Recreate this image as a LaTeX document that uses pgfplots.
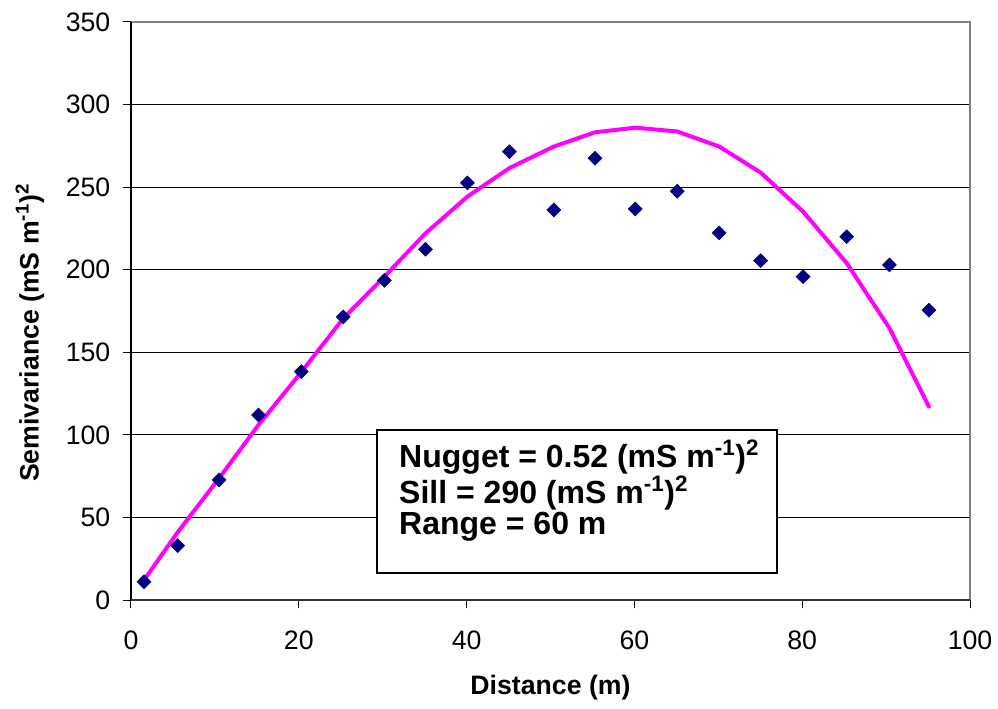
\documentclass[border=0pt]{standalone}
\usepackage{fontspec}
\setmainfont{Liberation Sans}
\usepackage{pgfplots}
\pgfplotsset{compat=1.18}

\definecolor{ptnavy}{RGB}{0,0,128}
\definecolor{fitmag}{RGB}{255,0,255}
\definecolor{frame}{RGB}{128,128,128}

\begin{document}
\begin{tikzpicture}
\begin{axis}[
  name=ax,
  scale only axis,
  width=629.25pt, height=433.5pt,
  xmin=0, xmax=100, ymin=0, ymax=350,
  xtick={0,20,...,100}, ytick={0,50,...,350},
  tick pos=left, tick align=outside,
  major tick length=6pt,
  tick style={black, line width=0.75pt},
  axis line style={draw=none},
  ymajorgrids,
  grid style={black, line width=0.75pt},
  /pgf/number format/assume math mode=true,
  tick label style={font=\fontsize{20}{24}\selectfont},
  xticklabel style={yshift=-14pt},
  yticklabel style={xshift=-6pt},
  xlabel={\textbf{Distance (m)}},
  ylabel={\textbf{Semivariance (mS m\textsuperscript{-1})\textsuperscript{2}}},
  label style={font=\fontsize{20}{24}\selectfont},
  x label style={at={(axis description cs:0.5,-0.152)}, anchor=center},
  y label style={at={(axis description cs:-0.1204,0.462)}, anchor=center},
  clip=false,
]
% frame: grey top and right, black left, dark bottom
\draw[frame, line width=2pt] (axis description cs:0,1) -- (axis description cs:1,1) -- (axis description cs:1,0);
\draw[black, line width=1.1pt] (axis description cs:0,0) -- (axis description cs:0,1);
\draw[black!80, line width=1.8pt] (axis description cs:0,0) -- (axis description cs:1,0);

% fitted model
\addplot[fitmag, line width=3pt, line join=round, line cap=round, mark=none] coordinates {
  (1.55,12) (5.56,41) (10.5,73.7) (15.2,106) (20.3,138) (25.3,170.5)
  (30.2,195.8) (35.1,222) (40.1,244.3) (45.1,261.5) (50.4,274.6)
  (55.3,283.2) (60.1,286) (65.1,283.7) (70.1,274.6) (75.05,258.8)
  (80.1,235.2) (85.3,204) (90.4,164.6) (95.1,117.1)
};

% experimental semivariogram
\addplot[only marks, mark=square*, mark size=3.7pt, mark options={rotate=45, fill=ptnavy, draw=ptnavy}] coordinates {
  (1.55,11.1) (5.56,32.9) (10.5,72.7) (15.2,112) (20.3,138.3) (25.3,171.4)
  (30.2,193.6) (35.1,212.4) (40.1,252.6) (45.1,271.5) (50.4,236.2)
  (55.3,267.5) (60.1,236.8) (65.1,247.5) (70.1,222.3) (75.05,205.5)
  (80.1,195.8) (85.3,220) (90.4,202.9) (95.1,175.5)
};

% parameter box
\draw[black, line width=1.5pt, fill=white] (axis cs:29.3,16.4) rectangle (axis cs:77,103);
\node[anchor=base west, align=left, inner sep=0pt,
      font=\fontsize{24}{23.5}\selectfont\bfseries]
  at (axis cs:31.94,39.6)
  {Nugget = 0.52 (mS m\textsuperscript{-1})\textsuperscript{2}\\
   Sill = 290 (mS m\textsuperscript{-1})\textsuperscript{2}\\
   Range = 60 m};
\end{axis}
\path ([xshift=-98.25pt,yshift=-81.75pt]ax.south west) rectangle ([xshift=21pt,yshift=16.5pt]ax.north east);
\end{tikzpicture}
\end{document}
